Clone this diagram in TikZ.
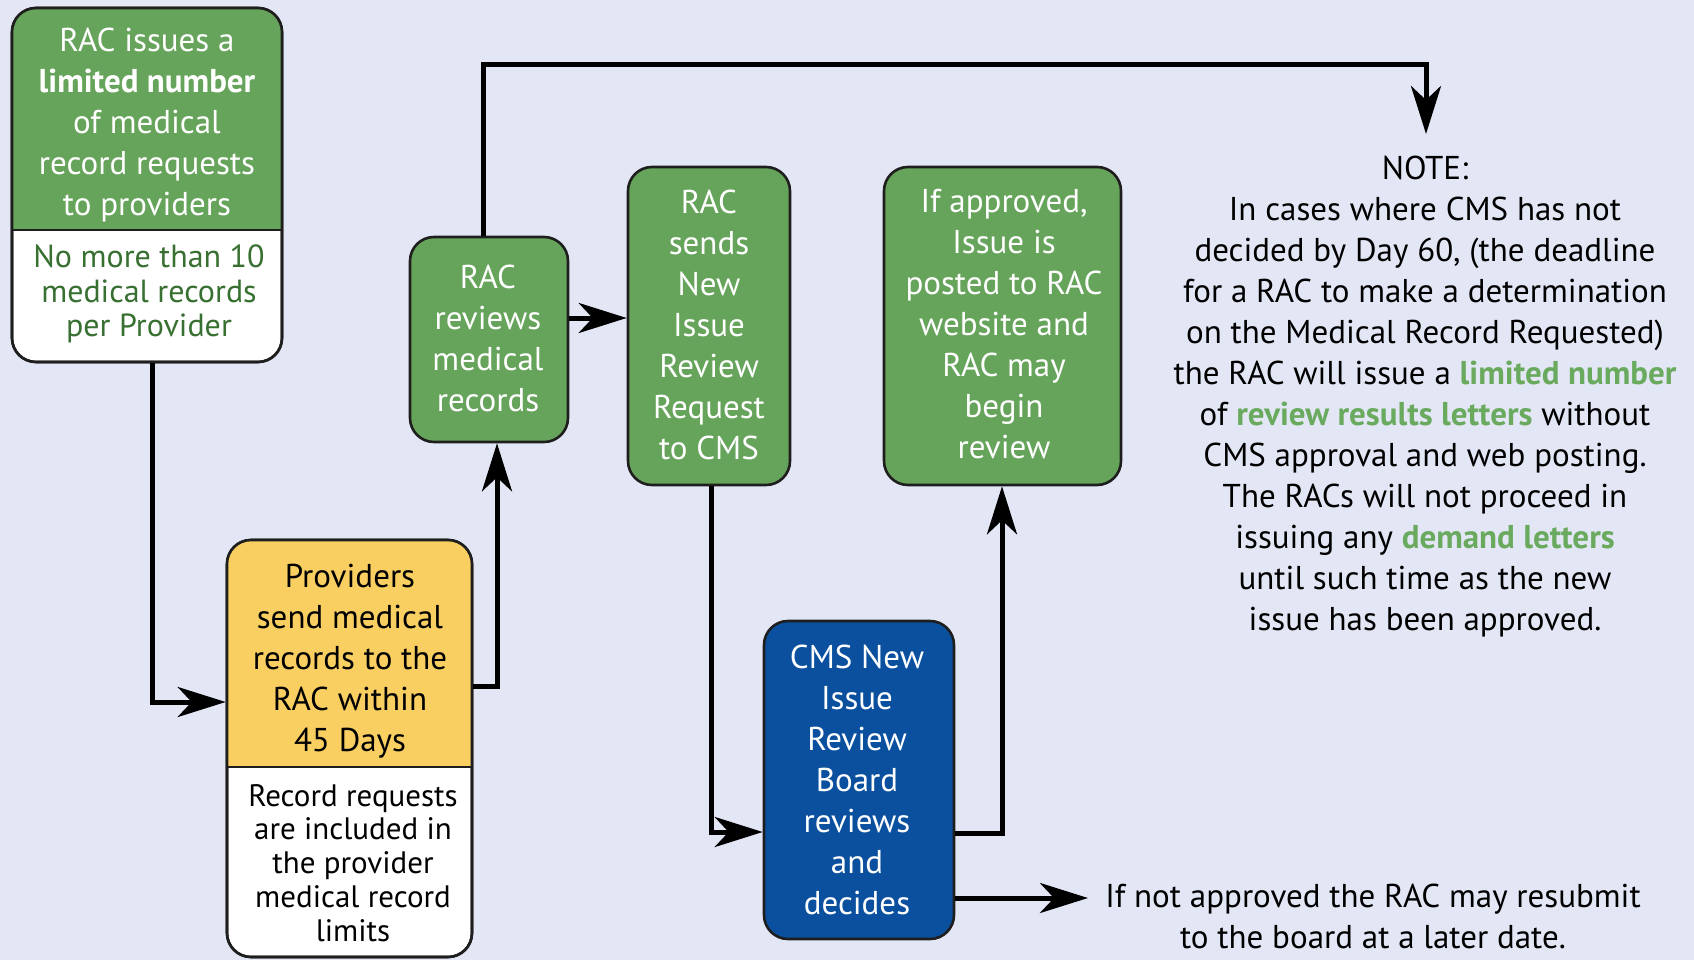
\documentclass[tikz,border=0pt]{standalone}
\usepackage{fontspec}
\setmainfont{PT Sans}
\usetikzlibrary{arrows.meta}
\definecolor{bgc}{RGB}{227,231,245}
\definecolor{gfill}{RGB}{103,164,91}
\definecolor{yfill}{RGB}{250,207,98}
\definecolor{bfill}{RGB}{10,80,158}
\definecolor{gdark}{RGB}{56,112,50}
\definecolor{glight}{RGB}{106,170,95}
\definecolor{edge}{RGB}{30,30,30}
\tikzset{
  boxshape/.style={draw=edge, line width=2.6pt, rounded corners=24pt, inner sep=0pt},
  btxt/.style={align=center, font=\fontsize{33}{41}\selectfont, inner sep=0pt},
  stxt/.style={align=center, font=\fontsize{32}{34.5}\selectfont, inner sep=0pt},
  ytxt/.style={align=center, font=\fontsize{31}{33.8}\selectfont, inner sep=0pt},
  arr/.style={line width=5pt, draw=black, -{Stealth[length=48pt,width=30pt,inset=14pt]}},
}
\begin{document}
\begin{tikzpicture}[x=1pt,y=-1pt]
\useasboundingbox (0,0) rectangle (1694,960);
\fill[bgc] (0,0) rectangle (1694,960);

% Box 1 (split green / white)
\node[boxshape, fill=white, minimum width=270pt, minimum height=354pt] (b1) at (147,185) {};
\begin{scope}
  \clip[rounded corners=24pt] (12,8) rectangle (282,362);
  \fill[gfill] (12,8) rectangle (282,230);
\end{scope}
\draw[draw=edge, line width=2.6pt, rounded corners=24pt] (12,8) rectangle (282,362);
\draw[draw=edge, line width=2.6pt] (12,230) -- (282,230);
\node[btxt, text=white] (t1) at (147,125) {RAC issues a\\\textbf{limited number}\\of medical\\record requests\\to providers};
\node[stxt, text=gdark] (t1b) at (149,294) {No more than 10\\medical records\\per Provider};

% Box 2 (split yellow / white)
\node[boxshape, fill=white, minimum width=245pt, minimum height=417pt] (b2) at (349.5,748.5) {};
\begin{scope}
  \clip[rounded corners=24pt] (227,540) rectangle (472,957);
  \fill[yfill] (227,540) rectangle (472,767);
\end{scope}
\draw[draw=edge, line width=2.6pt, rounded corners=24pt] (227,540) rectangle (472,957);
\draw[draw=edge, line width=2.6pt] (227,767) -- (472,767);
\node[btxt, text=black] (t2) at (350,661) {Providers\\send medical\\records to the\\RAC within\\45 Days};
\node[ytxt, text=black] (t2b) at (353,863) {Record requests\\are included in\\the provider\\medical record\\limits};

% Box 3
\node[boxshape, fill=gfill, minimum width=158pt, minimum height=205pt] (b3) at (489,339.5) {};
\node[btxt, text=white] (t3) at (488,338) {RAC\\reviews\\medical\\records};

% Box 4
\node[boxshape, fill=gfill, minimum width=162pt, minimum height=318pt] (b4) at (709,326) {};
\node[btxt, text=white] (t4) at (709,325) {RAC\\sends\\New\\Issue\\Review\\Request\\to CMS};

% Box 5
\node[boxshape, fill=gfill, minimum width=237pt, minimum height=318pt] (b5) at (1002.5,326) {};
\node[btxt, text=white] (t5) at (1004,324) {If approved,\\Issue is\\posted to RAC\\website and\\RAC may\\begin\\review};

% Box 6 (blue)
\node[boxshape, fill=bfill, minimum width=190pt, minimum height=318pt] (b6) at (859,780) {};
\node[btxt, text=white] (t6) at (857,780) {CMS New\\Issue\\Review\\Board\\reviews\\and\\decides};

% Note
\node[btxt, text=black] (note) at (1425,397) {NOTE:\\In cases where CMS has not\\decided by Day 60, (the deadline\\for a RAC to make a determination\\on the Medical Record Requested)\\the RAC will issue a \textcolor{glight}{\textbf{limited number}}\\of \textcolor{glight}{\textbf{review results letters}} without\\CMS approval and web posting.\\The RACs will not proceed in\\issuing any \textcolor{glight}{\textbf{demand letters}}\\until such time as the new\\issue has been approved.};

% Bottom text
\node[btxt, text=black] (nap) at (1373,916) {If not approved the RAC may resubmit\\to the board at a later date.};

% helper coordinates (routing)
\coordinate (k1) at (152,702);
\coordinate (k2) at (497,686);
\coordinate (k3) at (483,65);
\coordinate (k3e) at (1426,134);
\coordinate (k4) at (0,318);
\coordinate (k5) at (711,832);
\coordinate (k6) at (1002,833);
\coordinate (k7) at (0,898);
\coordinate (k7e) at (1088,898);

% connectors
\draw[arr] (b1.south -| k1) |- (b2.west |- k1);
\draw[arr] (b2.east |- k2) -| (b3.south -| k2);
\draw[arr] (b3.north -| k3) |- (k3e |- k3) -- (k3e);
\draw[arr] (b3.east |- k4) -- (b4.west |- k4);
\draw[arr] (b4.south -| k5) |- (b6.west |- k5);
\draw[arr] (b6.east |- k6) -| (b5.south -| k6);
\draw[arr] (b6.east |- k7) -- (k7e);
\end{tikzpicture}
\end{document}
